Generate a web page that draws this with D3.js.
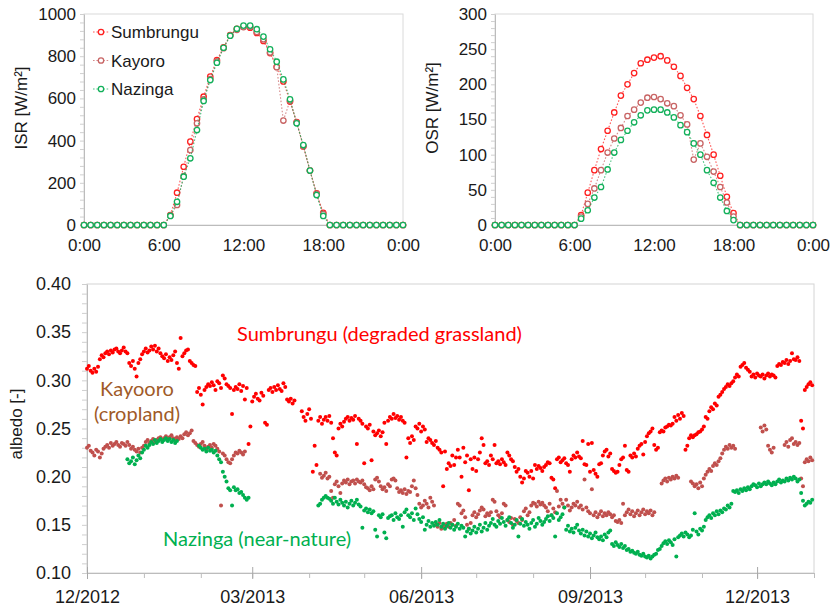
<!DOCTYPE html>
<html lang="en">
<head>
<meta charset="utf-8">
<script src="https://d3js.org/d3.v7.min.js"></script>
<style>
  body { margin: 0; background: #fff; }
  svg { display: block; font-family: "Liberation Sans", Arial, sans-serif; }
  .tick text { fill: #1a1a1a; font-family: "Liberation Sans", Arial, sans-serif; }
  .note { font-family: Lato, "Open Sans", sans-serif; }
</style>
</head>
<body>
<script>
// ---------- data ----------
var sites = ["Sumbrungu", "Kayoro", "Nazinga"];
var hourTicks = [0, 6, 12, 18, 24];
var hourLabels = ["0:00", "6:00", "12:00", "18:00", "0:00"];

// incoming shortwave radiation [W/m2], every 30 min from 0:00 to 24:00
var isrSumbrungu = [0,0,0,0,0,0,0,0,0,0,0,0,0,
  47,153,276,395,502,608,703,782,842,900,930,940,935,910,872,815,750,680,585,488,372,258,150,58,
  0,0,0,0,0,0,0,0,0,0,0,0];
var isrKayoro = [0,0,0,0,0,0,0,0,0,0,0,0,0,
  45,95,232,355,482,595,692,775,838,898,925,938,940,915,880,818,748,495,590,485,375,258,148,52,
  0,0,0,0,0,0,0,0,0,0,0,0];
var isrNazinga = [0,0,0,0,0,0,0,0,0,0,0,0,0,
  43,110,229,316,450,588,687,769,840,897,930,945,945,928,893,833,774,690,596,482,379,258,142,43,
  0,0,0,0,0,0,0,0,0,0,0,0];

// outgoing shortwave radiation [W/m2]
var osrSumbrungu = [0,0,0,0,0,0,0,0,0,0,0,0,0,
  14,46,78,108,134,160,184,200,216,230,235,238,240,234,225,212,195,179,155,128,100,70,40,17,
  0,0,0,0,0,0,0,0,0,0,0,0];
var osrKayoro = [0,0,0,0,0,0,0,0,0,0,0,0,0,
  12,30,52,78,103,123,138,155,164,174,181,182,179,173,169,156,143,93,116,97,76,54,32,12,
  0,0,0,0,0,0,0,0,0,0,0,0];
var osrNazinga = [0,0,0,0,0,0,0,0,0,0,0,0,0,
  9,21,39,54,79,103,121,134,146,156,163,164,164,160,153,142,132,116,100,78,60,39,20,7,
  0,0,0,0,0,0,0,0,0,0,0,0];

// daily albedo, one value per day from 2012-12-01 (null = no data)
var albedoStart = "2012-12-01";
var albedoEnd = "2014-01-01";
var albedoTickLabels = ["12/2012", "03/2013", "06/2013", "09/2013", "12/2013"];
var albedoSumbrungu = [
  .312,.315,.310,.308,.312,.309,.314,.322,.326,.324,
  .328,.330,.327,.331,.329,.332,.333,.330,.328,.331,
  .334,.330,.328,.318,.315,.320,.312,.304,.318,.322,
  .327,.330,.333,.329,.331,.335,.332,.336,.330,.333,
  .328,.325,.323,.327,.320,.324,.321,.326,.330,.318,
  .312,.344,.325,.328,.331,.332,.320,.318,.316,.315,
  .288,.292,.285,.275,.290,.293,.296,.294,.298,.295,
  .290,.299,.297,.292,.305,.302,.296,.294,.292,.265,
  .290,.293,.291,.296,.289,.294,.280,.292,.234,.252,
  .278,.283,.286,.281,.279,.287,.284,.256,.254,.290,
  .292,.288,.293,.290,.295,.291,.289,.297,.293,.280,
  .278,.281,.276,.279,null,null,null,.268,.262,.258,
  .265,.270,.260,.205,.232,.212,.258,.262,.255,.259,
  .262,.258,.263,.256,.240,.225,.222,.250,.255,.252,
  .257,.260,.262,.258,.261,.259,.263,.234,.260,.258,
  .255,.214,.252,.250,.254,.217,.247,.243,.245,.248,
  .242,.246,.256,.234,.258,.262,.260,.265,.261,.263,
  .259,.262,.258,.256,.220,.240,.235,.242,.238,.252,
  .250,.255,.247,.252,.249,.236,.240,.238,.235,.233,
  .237,.230,.228,.225,.190,.226,.208,.214,.211,.222,
  .212,.220,.228,.220,.200,.230,.215,.222,.186,.218,
  .208,.220,.206,.218,.225,.240,.233,.214,.216,.212,
  .222,.218,.233,.214,.216,.213,.218,.215,.212,.225,
  .222,.218,.216,.210,.205,.208,.200,.194,.198,.206,
  .204,.200,.206,.198,.212,.208,.211,.209,.206,.210,
  .212,.215,.214,.199,.197,.188,.218,.220,.215,.217,
  .219,.214,.212,.205,.218,.222,.220,.225,.221,.219,
  .237,.213,.212,.234,.205,.235,.207,.203,.200,.213,
  .214,.222,.226,.228,.221,.224,.208,.206,.204,.205,
  .212,.218,.220,.232,.207,.205,.222,.220,.224,.221,
  .229,.232,.234,.223,.236,.242,.245,.247,.250,.233,
  .228,.230,.246,.248,.247,.251,.252,.254,.253,.255,
  .262,.258,.264,.260,.266,.263,.228,.232,.240,.243,
  .241,.243,.244,.246,.247,.249,.252,.262,.260,.268,
  .272,.270,.276,.274,.283,.285,.288,.291,.293,.296,
  .294,.297,.299,.303,.306,.304,.314,.316,.318,.313,
  .311,.309,.304,.306,.303,.307,.305,.304,.306,.302,
  .305,.307,.304,.306,.305,.303,.315,.317,.316,.319,
  .318,.321,.317,.320,.328,.322,.321,.324,.320,.258,
  .250,.290,.293,.296,.298,.295,null];
var albedoKayoro = [
  .230,.232,.227,.225,.222,.228,.226,.220,.224,.229,
  .231,.233,.230,.235,.232,.234,.236,.233,.231,.235,
  .234,.232,.236,.233,.229,.231,.228,.226,.229,.225,
  .230,.232,.236,.238,.235,.237,.239,.236,.238,.240,
  .241,.238,.240,.242,.239,.241,.243,.240,.238,.241,
  .239,.242,.240,.244,.246,.243,.245,.248,.237,.235,
  .233,.231,.234,.236,.232,.229,.231,.233,.230,.234,
  .232,.229,.226,.170,.224,.222,.218,.215,.214,.218,
  .222,.225,.224,.227,.225,.223,.226,null,null,null,
  null,null,null,null,null,null,null,null,null,null,
  null,null,null,null,null,null,null,null,null,null,
  null,null,null,null,null,null,null,null,null,null,
  null,null,null,null,null,null,null,.203,.199,.201,
  .204,.198,.200,.185,.178,.192,.195,.190,.183,.193,
  .196,.194,.197,.192,.195,.196,.193,.197,.195,.194,
  .196,.192,.189,.188,.186,.190,.187,.197,.199,.195,
  .190,.187,.189,.185,.192,.190,.197,.198,.196,.188,
  .184,.186,.183,.187,.182,.185,.184,.190,.196,.188,
  .181,.172,.168,.170,.175,.172,.168,.178,.174,.170,
  .150,.148,.152,.146,.149,.147,.151,.148,.152,.150,
  .155,.149,.172,.170,.162,.165,.158,.150,.146,.152,
  .160,.163,.158,.161,.165,.168,.166,.159,.162,.160,
  .163,.176,.174,.164,.160,.158,.162,.172,.170,.155,
  .153,.157,.150,.156,.154,.152,.158,.155,.164,.167,
  .160,.163,.170,.173,.172,.169,.174,.171,.173,.170,
  .168,.164,.172,.160,.167,.163,.185,.169,.176,.172,
  .168,.176,.170,.165,.168,.172,.170,.174,.168,.170,
  .166,.197,.168,.164,.162,.187,.160,.163,.158,.161,
  .164,.159,.162,.160,.163,.161,.158,.160,.154,.153,
  .155,.152,.172,.160,.163,.166,.161,.164,.159,.162,
  .165,.160,.163,.166,.161,.164,.162,.165,.160,.163,
  null,null,null,.193,.196,.198,.195,.199,.197,.200,
  .198,.201,.199,null,null,null,null,null,null,.195,
  .193,.190,.192,.188,.194,.190,.198,.202,.205,.208,
  .206,.211,.214,.212,.216,.219,.224,.228,.231,.229,
  .233,.230,.232,.229,null,null,null,null,null,null,
  null,null,null,null,null,null,null,.251,.247,.253,
  .249,.232,.228,.225,.230,null,null,null,null,null,
  .233,.236,.231,.238,.240,.234,.236,.233,.235,.198,
  .190,.215,.218,.216,.220,.217,null];
var albedoNazinga = [
  null,null,null,null,null,null,null,null,null,null,
  null,null,null,null,null,null,null,null,null,null,
  null,null,.218,.214,.216,.220,.213,.217,.222,.219,
  .225,.228,.232,.230,.233,.236,.234,.238,.235,.237,
  .239,.236,.238,.240,.237,.239,.236,.238,.235,.237,
  null,null,null,null,null,null,null,null,null,null,
  null,.232,.230,.228,.229,.226,.230,.227,.228,.225,
  .227,.222,.218,.215,.205,.200,.195,.188,.186,.170,
  .189,.186,.187,.183,.184,.181,.178,.176,.178,null,
  null,null,null,null,null,null,null,null,null,null,
  null,null,null,null,null,null,null,null,null,null,
  null,null,null,null,null,null,null,null,null,null,
  null,null,null,null,null,null,.170,.172,.176,.178,
  .180,.178,.177,.175,.172,.178,.174,.171,.176,.173,
  .170,.174,.168,.172,.175,.170,.173,.176,.171,.169,
  .147,.165,.167,.163,.166,.162,.164,.145,.138,.160,
  .158,.161,.142,.136,.157,.159,.160,.155,.162,.158,
  .156,.160,.148,.163,.166,.160,.158,.162,.155,.167,
  .161,.156,.153,.158,.145,.150,.154,.148,.152,.149,
  .153,.150,.155,.148,.151,.146,.149,.152,.147,.150,
  .145,.148,.151,.146,.149,.147,.138,.143,.146,.141,
  .144,.148,.142,.146,.150,.143,.147,.152,.145,.149,
  .152,.156,.150,.148,.154,.151,.157,.153,.149,.155,
  .158,.152,.147,.150,.155,.138,.151,.156,.149,.153,
  .150,.146,.152,.155,.148,.151,.157,.154,.150,.153,
  .156,.159,.154,.160,.157,.138,.162,.155,.158,.161,
  .168,.145,.149,.143,.146,.142,.147,.150,.144,.141,
  .145,.139,.143,.138,.141,.136,.139,.142,.137,.135,
  .138,.134,.140,.137,.142,.144,.130,.128,.132,.129,
  .127,.130,.126,.128,.124,.125,.122,.123,.121,.120,
  .122,.119,.118,.120,.117,.116,.118,.115,.117,.119,
  .120,.124,.125,.128,.131,.133,.130,.134,.132,.129,
  .135,.117,.137,.139,.141,.138,.142,.140,.137,.139,
  .145,.162,.143,.140,.146,.144,.148,.155,.158,.160,
  .157,.162,.160,.164,.161,.165,.163,.167,.166,.170,
  .168,.172,.185,.184,.186,.183,.187,.185,.188,.186,
  .189,.187,.190,.192,.191,.189,.193,.190,.192,.194,
  .192,.195,.193,.191,.194,.192,.195,.197,.194,.196,
  .195,.198,.196,.199,.197,.200,.198,.195,.197,.183,
  .175,.170,.172,.174,.173,.176,null];

// ---------- drawing ----------
var W = 830, H = 610;
var svg = d3.select("body").append("svg").attr("width", W).attr("height", H);

// 日変化グラフ用の色（線は少し薄く）
var lineColors = ["#ff2020", "#c86464", "#12b05a"];
var dotColors  = ["#ff0000", "#c0504d", "#00b050"];

// d3.axis が付ける font-family / font-size を外して CSS を効かせる
function plainAxis(sel) {
  sel.attr("font-family", null).attr("font-size", null);
}

function dayPanel(left, right, yMax, yStep, yMinor, yLabel, series, withLegend) {
  var top = 14, bottom = 225;
  var x = d3.scaleLinear().domain([0, 24]).range([left, right]);
  var y = d3.scaleLinear().domain([0, yMax]).range([bottom, top]);
  var g = svg.append("g");

  g.append("rect")
    .attr("x", left).attr("y", top)
    .attr("width", right - left).attr("height", bottom - top)
    .attr("fill", "none").attr("stroke", "#dadada");

  // minor ticks
  g.append("g").attr("transform", "translate(" + left + ",0)")
    .call(d3.axisLeft(y).tickValues(d3.range(0, yMax + 0.1, yMinor)).tickSize(4).tickSizeOuter(0).tickFormat(""))
    .call(function(s){ s.select(".domain").remove(); })
    .selectAll("line").attr("stroke", "#d0d0d0");

  var ya = g.append("g").attr("transform", "translate(" + left + ",0)")
    .call(d3.axisLeft(y).tickValues(d3.range(0, yMax + 0.1, yStep)).tickFormat(d3.format("d"))
      .tickSize(0).tickSizeOuter(0).tickPadding(8))
    .call(plainAxis);
  ya.select(".domain").attr("stroke", "#bcbcbc");
  ya.selectAll("text").style("font-size", "17px");

  var xa = g.append("g").attr("transform", "translate(0," + bottom + ")")
    .call(d3.axisBottom(x).tickValues(hourTicks).tickFormat(function(d, i){ return hourLabels[i]; })
      .tickSize(0).tickSizeOuter(0).tickPadding(14))
    .call(plainAxis);
  xa.select(".domain").attr("stroke", "#bcbcbc");
  xa.selectAll("text").style("font-size", "17px");

  g.append("text")
    .attr("transform", "translate(" + (left - 63) + "," + 108 + ") rotate(-90)")
    .attr("text-anchor", "middle").attr("dy", "0.35em")
    .style("font-size", "17px").attr("fill", "#1a1a1a")
    .text(yLabel);

  var line = d3.line()
    .x(function(d, i){ return x(i / 2); })
    .y(function(d){ return y(d); });

  series.forEach(function(vals, k) {
    g.append("path").datum(vals)
      .attr("d", line)
      .attr("fill", "none")
      .attr("stroke", lineColors[k]).attr("stroke-opacity", 0.75)
      .attr("stroke-width", 1.1).attr("stroke-dasharray", "1.6,1.8");
    g.append("g").selectAll("circle").data(vals).enter()
      .append("circle")
      .attr("cx", function(d, i){ return x(i / 2); })
      .attr("cy", function(d){ return y(d); })
      .attr("r", 2.7)
      .attr("fill", "#fff")
      .attr("stroke", lineColors[k]).attr("stroke-width", 1.3);
  });

  if (withLegend) {
    sites.forEach(function(name, k) {
      var ly = 32 + k * 28.5;
      g.append("line").attr("x1", 93).attr("x2", 109).attr("y1", ly).attr("y2", ly)
        .attr("stroke", lineColors[k]).attr("stroke-opacity", 0.75)
        .attr("stroke-width", 1.1).attr("stroke-dasharray", "1.6,1.8");
      g.append("circle").attr("cx", 101).attr("cy", ly).attr("r", 2.7)
        .attr("fill", "#fff").attr("stroke", lineColors[k]).attr("stroke-width", 1.3);
      g.append("text").attr("x", 111).attr("y", ly).attr("dy", "0.36em")
        .style("font-size", "17px").attr("fill", "#1a1a1a").text(name);
    });
  }
}

dayPanel(84, 403, 1000, 200, 40, "ISR [W/m²]", [isrSumbrungu, isrKayoro, isrNazinga], true);
dayPanel(495, 813, 300, 50, 10, "OSR [W/m²]", [osrSumbrungu, osrKayoro, osrNazinga], false);

// ---------- albedo chart ----------
(function() {
  var left = 87, right = 814, top = 284, bottom = 573;
  var parseDay = d3.timeParse("%Y-%m-%d");
  var parseMonth = d3.timeParse("%m/%Y");
  var start = parseDay(albedoStart), end = parseDay(albedoEnd);
  var x = d3.scaleTime().domain([start, end]).range([left, right]);
  var y = d3.scaleLinear().domain([0.10, 0.40]).range([bottom, top]);
  var g = svg.append("g");

  g.append("rect")
    .attr("x", left).attr("y", top)
    .attr("width", right - left).attr("height", bottom - top)
    .attr("fill", "none").attr("stroke", "#d4d4d4");

  g.append("g").attr("transform", "translate(" + left + ",0)")
    .call(d3.axisLeft(y).tickValues(d3.range(10, 41).map(function(v){ return v / 100; }))
      .tickSize(5).tickSizeOuter(0).tickFormat(""))
    .call(function(s){ s.select(".domain").remove(); })
    .selectAll("line").attr("stroke", "#cfcfcf");

  var ya = g.append("g").attr("transform", "translate(" + left + ",0)")
    .call(d3.axisLeft(y).tickValues([0.10, 0.15, 0.20, 0.25, 0.30, 0.35, 0.40])
      .tickFormat(d3.format(".2f")).tickSize(0).tickSizeOuter(0).tickPadding(16))
    .call(plainAxis);
  ya.select(".domain").attr("stroke", "#bcbcbc");
  ya.selectAll("text").style("font-size", "18px");

  // monthly minor ticks
  g.append("g").attr("transform", "translate(0," + bottom + ")")
    .call(d3.axisBottom(x).tickValues(d3.timeMonth.range(start, d3.timeDay.offset(end, 1)))
      .tickSize(5).tickSizeOuter(0).tickFormat(""))
    .call(function(s){ s.select(".domain").remove(); })
    .selectAll("line").attr("stroke", "#bdbdbd");

  var qDates = albedoTickLabels.map(function(s){ return parseMonth(s); });
  var xa = g.append("g").attr("transform", "translate(0," + bottom + ")")
    .call(d3.axisBottom(x).tickValues(qDates).tickFormat(function(d, i){ return albedoTickLabels[i]; })
      .tickSize(6).tickSizeOuter(0).tickPadding(11))
    .call(plainAxis);
  xa.select(".domain").attr("stroke", "#bcbcbc");
  xa.selectAll(".tick line").attr("stroke", "#a8a8a8").attr("y1", -6);
  xa.selectAll("text").style("font-size", "18px");

  g.append("text")
    .attr("transform", "translate(16,424) rotate(-90)")
    .attr("text-anchor", "middle").attr("dy", "0.35em")
    .style("font-size", "17px").attr("fill", "#1a1a1a")
    .text("albedo [-]");

  [albedoSumbrungu, albedoKayoro, albedoNazinga].forEach(function(vals, k) {
    var pts = vals.map(function(v, i){ return {date: d3.timeDay.offset(start, i), v: v}; })
      .filter(function(p){ return p.v !== null; });
    g.append("g").selectAll("circle").data(pts).enter()
      .append("circle")
      .attr("cx", function(p){ return x(p.date); })
      .attr("cy", function(p){ return y(p.v); })
      .attr("r", 2)
      .attr("fill", dotColors[k]);
  });

  g.append("text").attr("class", "note").attr("x", 237).attr("y", 341)
    .style("font-size", "20px").attr("fill", "#ff0000")
    .text("Sumbrungu (degraded grassland)");
  g.append("text").attr("class", "note").attr("x", 137).attr("y", 396)
    .attr("text-anchor", "middle")
    .style("font-size", "20px").attr("fill", "#a05a28")
    .text("Kayooro");
  g.append("text").attr("class", "note").attr("x", 137).attr("y", 421)
    .attr("text-anchor", "middle")
    .style("font-size", "20px").attr("fill", "#a05a28")
    .text("(cropland)");
  g.append("text").attr("class", "note").attr("x", 163).attr("y", 546)
    .style("font-size", "20px").attr("fill", "#00b050")
    .text("Nazinga (near-nature)");
})();
</script>
</body>
</html>
